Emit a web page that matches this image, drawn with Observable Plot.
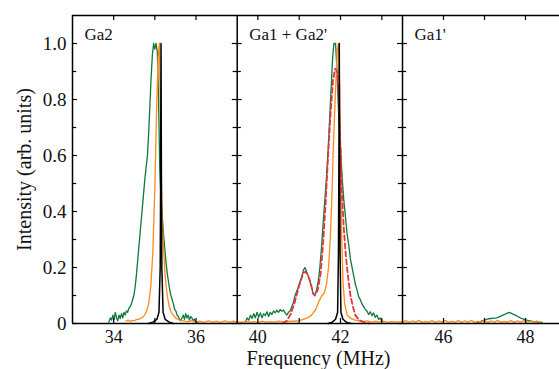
<!DOCTYPE html>
<html><head><meta charset="utf-8">
<script src="https://cdn.jsdelivr.net/npm/d3@7"></script>
<script src="https://cdn.jsdelivr.net/npm/@observablehq/plot@0.6"></script>
<style>body{margin:0;background:#fff}</style>
</head><body><div id="chart"></div>
<script>
// ---- data (frequency MHz, intensity arb. units) ----
const panelNames = ["Ga2", "Ga1 + Ga2'", "Ga1'"];
const panelStart = [33, 39.5, 45];
const panelEnd = [37, 43.5, 49];
const yTicks = [0, 0.2, 0.4, 0.6, 0.8, 1.0];
const yTickLabels = ["0", "0.2", "0.4", "0.6", "0.8", "1.0"];
const yMinorTicks = [0.1, 0.3, 0.5, 0.7, 0.9];
const xTickLabels = [34, 36, 40, 42, 46, 48];
const xMinorTicks = [34, 35, 36, 40, 41, 42, 43, 46, 47, 48];

// Green spectra
const green1 = [[33.88,0.004],[33.92,0.02],[33.95,0.012],[33.98,0.03],[34.01,0.015],[34.04,0.04],[34.07,0.02],[34.1,0.01],[34.13,0.03],[34.16,0.018],[34.19,0.035],[34.22,0.02],[34.25,0.04],[34.28,0.03],[34.31,0.045],[34.34,0.04],[34.37,0.055],[34.4,0.06],[34.43,0.07],[34.46,0.085],[34.49,0.1],[34.52,0.13],[34.55,0.17],[34.58,0.22],[34.61,0.27],[34.64,0.32],[34.67,0.37],[34.7,0.42],[34.73,0.47],[34.76,0.52],[34.79,0.56],[34.82,0.6],[34.85,0.68],[34.88,0.78],[34.91,0.88],[34.94,0.96],[34.97,1.0],[35.0,0.98],[35.03,1.0],[35.06,0.97],[35.09,0.8],[35.12,0.55],[35.15,0.44],[35.18,0.38],[35.21,0.32],[35.24,0.27],[35.27,0.22],[35.3,0.18],[35.33,0.15],[35.36,0.12],[35.39,0.1],[35.42,0.085],[35.45,0.07],[35.48,0.05],[35.51,0.045],[35.54,0.03],[35.57,0.025],[35.6,0.015],[35.63,0.01],[35.66,0.02],[35.69,0.03],[35.72,0.015],[35.75,0.035],[35.78,0.02],[35.81,0.03],[35.84,0.012],[35.87,0.025],[35.9,0.02],[35.93,0.01],[35.96,0.015],[35.99,0.005],[36.05,0.003]];
const green2 = [[39.7,0.005],[39.74,0.02],[39.78,0.012],[39.82,0.03],[39.86,0.018],[39.9,0.035],[39.94,0.02],[39.98,0.04],[40.02,0.022],[40.06,0.038],[40.1,0.02],[40.14,0.035],[40.18,0.028],[40.22,0.042],[40.26,0.025],[40.3,0.04],[40.34,0.032],[40.38,0.045],[40.42,0.038],[40.46,0.048],[40.5,0.04],[40.54,0.05],[40.58,0.044],[40.62,0.048],[40.66,0.038],[40.7,0.03],[40.74,0.04],[40.78,0.045],[40.82,0.06],[40.86,0.075],[40.9,0.1],[40.94,0.115],[40.98,0.13],[41.02,0.15],[41.06,0.165],[41.1,0.19],[41.14,0.2],[41.18,0.185],[41.22,0.17],[41.26,0.15],[41.3,0.13],[41.34,0.105],[41.38,0.1],[41.42,0.12],[41.46,0.15],[41.5,0.2],[41.54,0.27],[41.58,0.36],[41.62,0.44],[41.66,0.52],[41.7,0.62],[41.74,0.74],[41.78,0.86],[41.81,0.95],[41.84,1.0],[41.88,1.0],[41.91,0.92],[41.94,0.8],[41.97,0.7],[42.0,0.63],[42.04,0.52],[42.08,0.44],[42.12,0.38],[42.16,0.32],[42.2,0.28],[42.24,0.23],[42.28,0.2],[42.32,0.17],[42.36,0.14],[42.4,0.12],[42.44,0.095],[42.48,0.085],[42.52,0.07],[42.56,0.06],[42.6,0.05],[42.64,0.045],[42.68,0.032],[42.72,0.042],[42.76,0.028],[42.8,0.038],[42.84,0.022],[42.88,0.03],[42.92,0.015],[42.96,0.02],[43.0,0.006]];
const green3 = [[46.82,0.003],[47.0,0.012],[47.1,0.017],[47.3,0.02],[47.45,0.03],[47.6,0.04],[47.75,0.03],[47.9,0.018],[48.05,0.011],[48.2,0.007],[48.4,0.004]];

// Orange spectra
const orange1 = [[34.3,0.008],[34.35,0.012],[34.4,0.007],[34.45,0.011],[34.5,0.01],[34.55,0.014],[34.6,0.015],[34.65,0.018],[34.7,0.022],[34.75,0.03],[34.8,0.045],[34.85,0.07],[34.9,0.13],[34.95,0.25],[35.0,0.48],[35.04,0.75],[35.08,0.95],[35.11,1.0],[35.14,0.7],[35.17,0.42],[35.2,0.3],[35.25,0.17],[35.3,0.1],[35.35,0.06],[35.4,0.04],[35.45,0.03],[35.5,0.02],[35.55,0.016],[35.6,0.012],[35.7,0.009],[35.8,0.007],[35.9,0.01],[36.0,0.005],[36.1,0.008],[36.2,0.004],[36.3,0.009],[36.4,0.005],[36.5,0.008],[36.6,0.004],[36.7,0.009],[36.8,0.005],[36.9,0.008],[37.0,0.006]];
const orange2 = [[39.5,0.006],[39.6,0.004],[39.7,0.008],[39.8,0.005],[39.9,0.007],[40.0,0.004],[40.1,0.008],[40.2,0.005],[40.3,0.007],[40.4,0.005],[40.5,0.008],[40.6,0.006],[40.7,0.007],[40.8,0.008],[40.9,0.008],[41.0,0.01],[41.1,0.015],[41.2,0.02],[41.3,0.03],[41.4,0.05],[41.48,0.08],[41.55,0.1],[41.61,0.11],[41.66,0.14],[41.71,0.2],[41.75,0.3],[41.78,0.4],[41.82,0.6],[41.87,0.8],[41.92,0.97],[41.95,1.0],[41.98,0.85],[42.0,0.6],[42.03,0.3],[42.06,0.15],[42.1,0.07],[42.16,0.03],[42.25,0.018],[42.35,0.012],[42.45,0.009],[42.55,0.007],[42.65,0.009],[42.75,0.005],[42.85,0.008],[42.95,0.005],[43.05,0.008],[43.15,0.004],[43.25,0.007],[43.35,0.005],[43.5,0.006]];
const orange3 = [[45.0,0.006],[45.08,0.01],[45.16,0.004],[45.24,0.009],[45.32,0.005],[45.4,0.011],[45.48,0.004],[45.56,0.008],[45.64,0.005],[45.72,0.01],[45.8,0.004],[45.88,0.009],[45.96,0.005],[46.04,0.011],[46.12,0.004],[46.2,0.008],[46.28,0.005],[46.36,0.01],[46.44,0.004],[46.52,0.009],[46.6,0.005],[46.68,0.011],[46.76,0.004],[46.84,0.008],[46.92,0.005],[47.0,0.01],[47.08,0.004],[47.16,0.009],[47.24,0.005],[47.32,0.011],[47.4,0.004],[47.48,0.008],[47.56,0.005],[47.64,0.01],[47.72,0.004],[47.8,0.009],[47.88,0.005],[47.96,0.01],[48.04,0.004],[48.12,0.008],[48.2,0.005],[48.28,0.009],[48.36,0.004]];

// Red dashed fit
const red2 = [[40.6,0],[40.7,0.01],[40.8,0.035],[40.9,0.08],[41.0,0.135],[41.1,0.18],[41.15,0.185],[41.2,0.175],[41.27,0.15],[41.33,0.11],[41.38,0.1],[41.45,0.12],[41.52,0.18],[41.58,0.29],[41.64,0.43],[41.7,0.6],[41.76,0.75],[41.82,0.87],[41.87,0.91],[41.92,0.9],[41.96,0.8],[42.0,0.62],[42.04,0.45],[42.08,0.34],[42.13,0.24],[42.18,0.17],[42.24,0.1],[42.3,0.06],[42.36,0.03],[42.45,0.012],[42.6,0.003],[42.7,0]];

// Black spectra
const black1 = [[34.85,0],[34.95,0.005],[35.05,0.015],[35.1,0.04],[35.13,0.2],[35.14,0.5],[35.15,1.0],[35.16,0.5],[35.17,0.2],[35.2,0.04],[35.25,0.015],[35.35,0.005],[35.45,0]];
const black2 = [[41.7,0],[41.8,0.005],[41.88,0.015],[41.93,0.04],[41.95,0.25],[41.96,0.55],[41.97,1.0],[41.98,0.55],[41.99,0.25],[42.01,0.04],[42.06,0.015],[42.14,0.005],[42.25,0]];

// ---- build ----
const toRows = (arr, seg) => arr.map(([f, v]) => ({f, v, seg}));
const greenRows = [...toRows(green1, 1), ...toRows(green2, 2), ...toRows(green3, 3)];
const orangeRows = [...toRows(orange1, 1), ...toRows(orange2, 2), ...toRows(orange3, 3)];
const redRows = toRows(red2, 2);
const blackRows = [...toRows(black1, 1), ...toRows(black2, 2)];

const font = "'Liberation Serif', 'Times New Roman', serif";
const yTop = 1.1;
const tickLen = 0.12, minorLen = 0.1, xTickLen = 0.018;

const chart = Plot.plot({
  width: 559, height: 369,
  marginLeft: 72, marginRight: 0, marginTop: 15, marginBottom: 46,
  style: {fontFamily: font, background: "#fff"},
  x: {type: "linear", domain: [panelStart[0], panelEnd[0], panelStart[1], panelEnd[1], panelStart[2], panelEnd[2]],
      range: [72, 236.7, 236.7, 402, 402, 566], axis: null},
  y: {domain: [0, yTop], axis: null},
  marks: [
    Plot.line(greenRows, {x: "f", y: "v", z: "seg", stroke: "#12793d", strokeWidth: 1.3}),
    Plot.line(orangeRows, {x: "f", y: "v", z: "seg", stroke: "#ff8a1c", strokeWidth: 1.3}),
    Plot.line(redRows, {x: "f", y: "v", z: "seg", stroke: "#e8323c", strokeWidth: 1.8, strokeDasharray: "5,3"}),
    Plot.line(blackRows, {x: "f", y: "v", z: "seg", stroke: "#000", strokeWidth: 1.5}),
    // frame
    Plot.ruleY([0, yTop], {x1: panelStart[0], x2: panelEnd[2], stroke: "#000", strokeWidth: 1.5}),
    Plot.ruleX([panelStart[0], panelEnd[0], panelEnd[1]], {y1: 0, y2: yTop, stroke: "#000", strokeWidth: 1.5}),
    // y ticks on left axis and both sides of dividers
    Plot.ruleY(yTicks, {y: d => d, x1: panelStart[0], x2: panelStart[0] + tickLen, stroke: "#000", strokeWidth: 1.2}),
    Plot.ruleY(yMinorTicks, {y: d => d, x1: panelStart[0], x2: panelStart[0] + minorLen, stroke: "#000", strokeWidth: 1.2}),
    Plot.ruleY(yTicks, {y: d => d, x1: panelEnd[0] - tickLen, x2: panelStart[1] + tickLen, stroke: "#000", strokeWidth: 1.2}),
    Plot.ruleY(yMinorTicks, {y: d => d, x1: panelEnd[0] - minorLen, x2: panelStart[1] + minorLen, stroke: "#000", strokeWidth: 1.2}),
    Plot.ruleY(yTicks, {y: d => d, x1: panelEnd[1] - tickLen, x2: panelStart[2] + tickLen, stroke: "#000", strokeWidth: 1.2}),
    Plot.ruleY(yMinorTicks, {y: d => d, x1: panelEnd[1] - minorLen, x2: panelStart[2] + minorLen, stroke: "#000", strokeWidth: 1.2}),
    // x ticks bottom and top
    Plot.ruleX(xMinorTicks, {x: d => d, y1: 0, y2: xTickLen, stroke: "#000", strokeWidth: 1.2}),
    Plot.ruleX(xMinorTicks, {x: d => d, y1: yTop, y2: yTop - xTickLen, stroke: "#000", strokeWidth: 1.2}),
    // tick labels
    Plot.text(xTickLabels, {x: d => d, y: 0, text: d => String(d), lineAnchor: "middle", dy: 14, fontSize: 18, fill: "#111"}),
    Plot.text(yTicks, {x: panelStart[0], y: d => d, text: (d, i) => yTickLabels[i], textAnchor: "end", lineAnchor: "middle", dx: -6, fontSize: 19, fill: "#111"}),
    // panel labels
    Plot.text(panelNames, {x: (d, i) => panelStart[i], y: yTop, text: d => d, textAnchor: "start", lineAnchor: "middle", dx: 12, dy: 18.6, fontSize: 17, fill: "#111"}),
    // axis titles
    Plot.text(["Intensity (arb. units)"], {x: panelStart[0], y: 0.55, text: d => d, rotate: -90, lineAnchor: "middle", dx: -48, fontSize: 20, fill: "#111"}),
    Plot.text(["Frequency (MHz)"], {frameAnchor: "bottom", text: d => d, lineAnchor: "middle", dx: 2.5, dy: 35, fontSize: 20, fill: "#111"})
  ]
});
document.getElementById("chart").appendChild(chart);
</script>
</body></html>
